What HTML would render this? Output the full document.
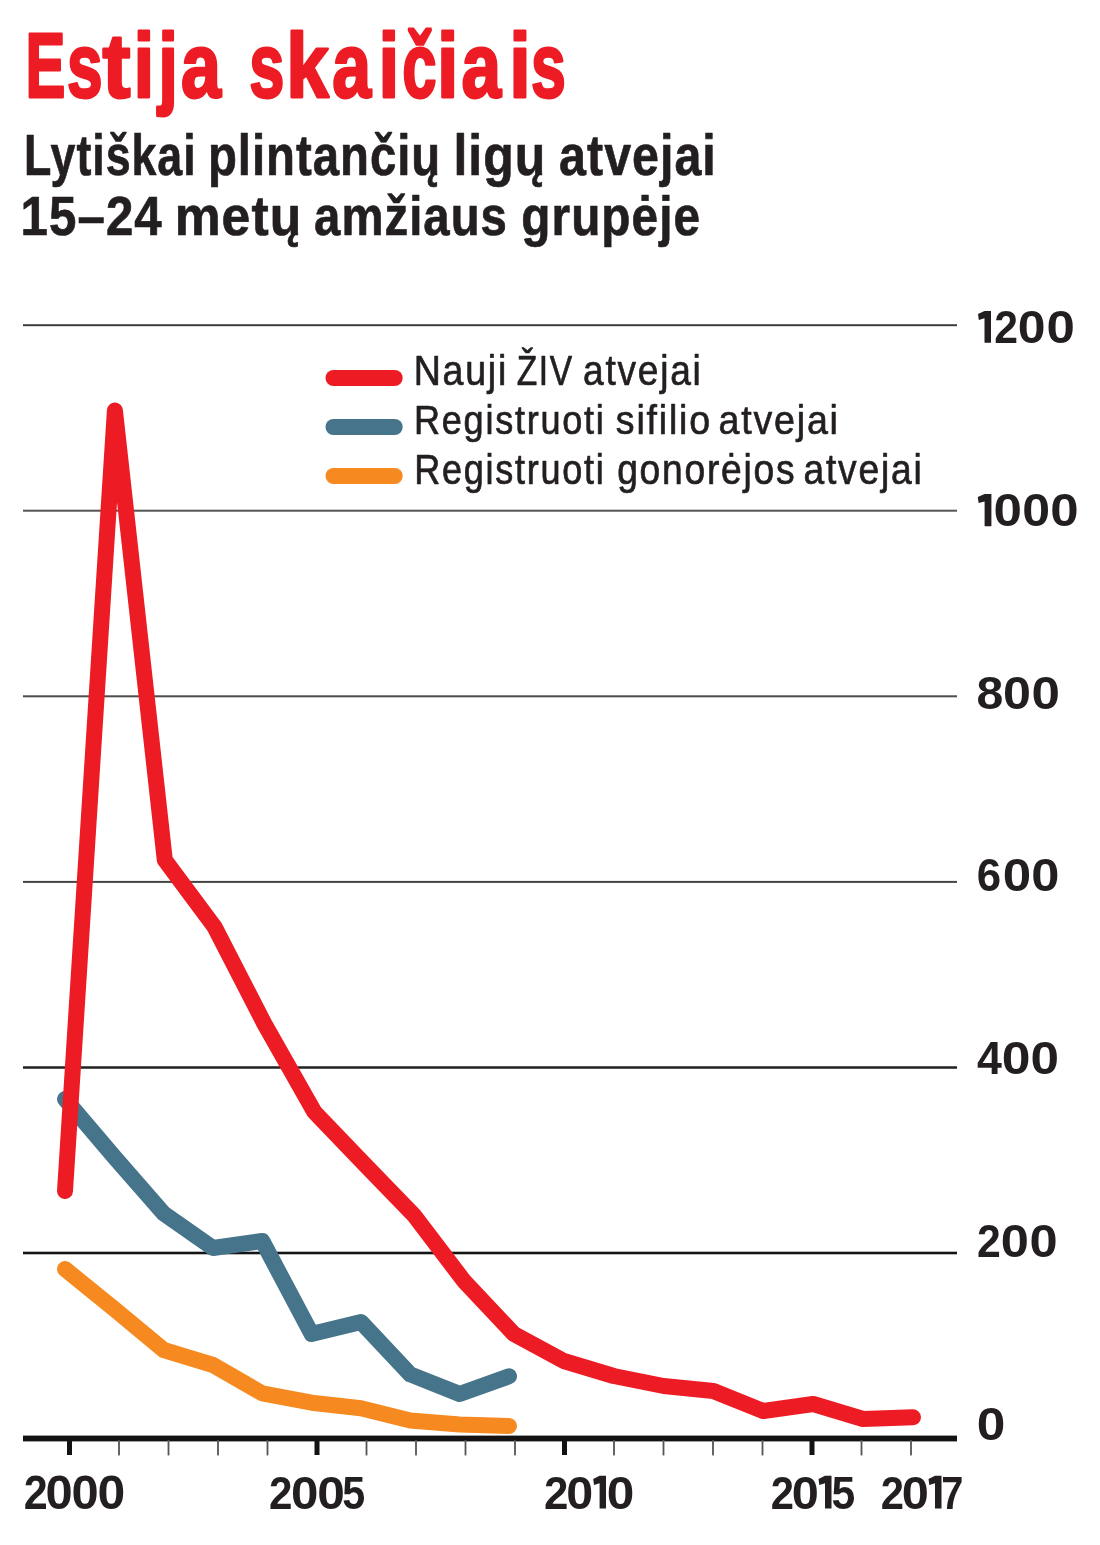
<!DOCTYPE html>
<html><head><meta charset="utf-8"><style>
html,body{margin:0;padding:0;background:#fff;}
svg{display:block;will-change:transform;font-family:"Liberation Sans", sans-serif;}
</style></head><body>
<svg width="1100" height="1545" viewBox="0 0 1100 1545">
<rect width="1100" height="1545" fill="#fff"/>
<rect x="23" y="324.20" width="934" height="2.0" fill="#3d3d3d"/>
<rect x="23" y="509.70" width="934" height="2.0" fill="#555555"/>
<rect x="23" y="695.30" width="934" height="2.0" fill="#4d4d4d"/>
<rect x="23" y="880.90" width="934" height="2.0" fill="#454545"/>
<rect x="23" y="1066.25" width="934" height="2.5" fill="#222222"/>
<rect x="23" y="1251.70" width="934" height="2.6" fill="#141414"/>
<rect x="23" y="1435.6" width="934" height="5.8" fill="#141213"/>
<rect x="67.0" y="1440" width="5" height="15" fill="#141213"/>
<rect x="118.1" y="1440" width="1.8" height="15.4" fill="#555555"/>
<rect x="167.6" y="1440" width="1.8" height="15.4" fill="#555555"/>
<rect x="217.1" y="1440" width="1.8" height="15.4" fill="#555555"/>
<rect x="266.6" y="1440" width="1.8" height="15.4" fill="#555555"/>
<rect x="314.5" y="1440" width="5" height="15" fill="#141213"/>
<rect x="365.6" y="1440" width="1.8" height="15.4" fill="#555555"/>
<rect x="415.1" y="1440" width="1.8" height="15.4" fill="#555555"/>
<rect x="464.6" y="1440" width="1.8" height="15.4" fill="#555555"/>
<rect x="514.1" y="1440" width="1.8" height="15.4" fill="#555555"/>
<rect x="562.0" y="1440" width="5" height="15" fill="#141213"/>
<rect x="613.1" y="1440" width="1.8" height="15.4" fill="#555555"/>
<rect x="662.6" y="1440" width="1.8" height="15.4" fill="#555555"/>
<rect x="712.1" y="1440" width="1.8" height="15.4" fill="#555555"/>
<rect x="761.6" y="1440" width="1.8" height="15.4" fill="#555555"/>
<rect x="809.5" y="1440" width="5" height="15" fill="#141213"/>
<rect x="860.6" y="1440" width="1.8" height="15.4" fill="#555555"/>
<rect x="910.1" y="1440" width="1.8" height="15.4" fill="#555555"/>
<polyline points="65.0,1269.0 114.3,1309.0 163.7,1350.0 213.0,1365.0 262.3,1393.4 311.6,1402.7 361.0,1408.2 410.3,1420.5 459.6,1424.5 509.0,1426.0" fill="none" stroke="#F6891F" stroke-width="16" stroke-linejoin="round" stroke-linecap="round"/>
<polyline points="65.0,1099.0 114.3,1157.0 163.7,1213.5 213.0,1248.0 262.3,1241.0 311.6,1334.0 361.0,1322.0 410.3,1374.4 459.6,1394.0 509.0,1376.3" fill="none" stroke="#45748B" stroke-width="16" stroke-linejoin="round" stroke-linecap="round"/>
<polyline points="65.0,1191.0 114.9,410.5 164.8,860.0 214.6,927.0 264.5,1024.0 314.4,1112.0 364.3,1164.0 414.2,1215.5 464.0,1281.0 513.9,1334.0 563.8,1361.0 613.7,1376.0 663.6,1386.0 713.4,1391.0 763.3,1411.0 813.2,1404.0 863.1,1419.0 913.0,1417.3" fill="none" stroke="#ED1C24" stroke-width="16" stroke-linejoin="round" stroke-linecap="round"/>
<line x1="333.5" y1="378" x2="394.7" y2="378" stroke="#ED1C24" stroke-width="16" stroke-linecap="round"/>
<line x1="333.5" y1="427" x2="394.7" y2="427" stroke="#45748B" stroke-width="16" stroke-linecap="round"/>
<line x1="333.5" y1="476" x2="394.7" y2="476" stroke="#F6891F" stroke-width="16" stroke-linecap="round"/>
<text x="25.58" y="97.47" font-size="91.64" font-weight="bold" fill="#ED1C24" stroke="#ED1C24" stroke-width="2.80" stroke-linejoin="round" textLength="39.87" lengthAdjust="spacingAndGlyphs">E</text>
<text x="67.07" y="97.47" font-size="91.64" font-weight="bold" fill="#ED1C24" stroke="#ED1C24" stroke-width="2.80" stroke-linejoin="round" textLength="35.58" lengthAdjust="spacingAndGlyphs">s</text>
<text x="102.39" y="97.47" font-size="91.64" font-weight="bold" fill="#ED1C24" stroke="#ED1C24" stroke-width="2.80" stroke-linejoin="round" textLength="27.97" lengthAdjust="spacingAndGlyphs">t</text>
<text x="133.58" y="97.47" font-size="91.64" font-weight="bold" fill="#ED1C24" stroke="#ED1C24" stroke-width="2.80" stroke-linejoin="round" textLength="20.79" lengthAdjust="spacingAndGlyphs">i</text>
<text x="158.19" y="97.47" font-size="91.64" font-weight="bold" fill="#ED1C24" stroke="#ED1C24" stroke-width="2.80" stroke-linejoin="round" textLength="19.73" lengthAdjust="spacingAndGlyphs">j</text>
<text x="181.07" y="97.47" font-size="91.64" font-weight="bold" fill="#ED1C24" stroke="#ED1C24" stroke-width="2.80" stroke-linejoin="round" textLength="39.98" lengthAdjust="spacingAndGlyphs">a</text>
<text x="249.16" y="97.47" font-size="91.64" font-weight="bold" fill="#ED1C24" stroke="#ED1C24" stroke-width="2.80" stroke-linejoin="round" textLength="35.14" lengthAdjust="spacingAndGlyphs">s</text>
<text x="286.31" y="97.47" font-size="91.64" font-weight="bold" fill="#ED1C24" stroke="#ED1C24" stroke-width="2.80" stroke-linejoin="round" textLength="42.59" lengthAdjust="spacingAndGlyphs">k</text>
<text x="332.34" y="97.47" font-size="91.64" font-weight="bold" fill="#ED1C24" stroke="#ED1C24" stroke-width="2.80" stroke-linejoin="round" textLength="38.84" lengthAdjust="spacingAndGlyphs">a</text>
<text x="378.41" y="97.47" font-size="91.64" font-weight="bold" fill="#ED1C24" stroke="#ED1C24" stroke-width="2.80" stroke-linejoin="round" textLength="20.74" lengthAdjust="spacingAndGlyphs">i</text>
<text x="402.21" y="97.47" font-size="91.64" font-weight="bold" fill="#ED1C24" stroke="#ED1C24" stroke-width="2.80" stroke-linejoin="round" textLength="34.33" lengthAdjust="spacingAndGlyphs">č</text>
<text x="437.05" y="97.47" font-size="91.64" font-weight="bold" fill="#ED1C24" stroke="#ED1C24" stroke-width="2.80" stroke-linejoin="round" textLength="21.43" lengthAdjust="spacingAndGlyphs">i</text>
<text x="461.50" y="97.47" font-size="91.64" font-weight="bold" fill="#ED1C24" stroke="#ED1C24" stroke-width="2.80" stroke-linejoin="round" textLength="39.57" lengthAdjust="spacingAndGlyphs">a</text>
<text x="509.21" y="97.47" font-size="91.64" font-weight="bold" fill="#ED1C24" stroke="#ED1C24" stroke-width="2.80" stroke-linejoin="round" textLength="21.48" lengthAdjust="spacingAndGlyphs">i</text>
<text x="530.97" y="97.47" font-size="91.64" font-weight="bold" fill="#ED1C24" stroke="#ED1C24" stroke-width="2.80" stroke-linejoin="round" textLength="34.84" lengthAdjust="spacingAndGlyphs">s</text>
<text x="23.97" y="175.07" font-size="57.69" font-weight="bold" fill="#231F20" stroke="#231F20" stroke-width="0.70" stroke-linejoin="round" letter-spacing="1.20" textLength="172.55" lengthAdjust="spacingAndGlyphs">Lytiškai</text>
<text x="207.98" y="175.07" font-size="57.69" font-weight="bold" fill="#231F20" stroke="#231F20" stroke-width="0.70" stroke-linejoin="round" letter-spacing="1.20" textLength="233.24" lengthAdjust="spacingAndGlyphs">plintančių</text>
<text x="453.47" y="175.07" font-size="57.69" font-weight="bold" fill="#231F20" stroke="#231F20" stroke-width="0.70" stroke-linejoin="round" letter-spacing="1.20" textLength="92.84" lengthAdjust="spacingAndGlyphs">ligų</text>
<text x="559.09" y="175.07" font-size="57.69" font-weight="bold" fill="#231F20" stroke="#231F20" stroke-width="0.70" stroke-linejoin="round" letter-spacing="1.20" textLength="157.74" lengthAdjust="spacingAndGlyphs">atvejai</text>
<text x="20.62" y="235.22" font-size="55.89" font-weight="bold" fill="#231F20" stroke="#231F20" stroke-width="0.70" stroke-linejoin="round" letter-spacing="1.20" textLength="142.21" lengthAdjust="spacingAndGlyphs">15–24</text>
<text x="174.63" y="235.22" font-size="55.89" font-weight="bold" fill="#231F20" stroke="#231F20" stroke-width="0.70" stroke-linejoin="round" letter-spacing="1.20" textLength="127.70" lengthAdjust="spacingAndGlyphs">metų</text>
<text x="314.07" y="235.22" font-size="55.89" font-weight="bold" fill="#231F20" stroke="#231F20" stroke-width="0.70" stroke-linejoin="round" letter-spacing="1.20" textLength="193.89" lengthAdjust="spacingAndGlyphs">amžiaus</text>
<text x="521.37" y="235.22" font-size="55.89" font-weight="bold" fill="#231F20" stroke="#231F20" stroke-width="0.70" stroke-linejoin="round" letter-spacing="1.20" textLength="179.67" lengthAdjust="spacingAndGlyphs">grupėje</text>
<text x="413.64" y="384.82" font-size="42.76" font-weight="normal" fill="#231F20" stroke="#231F20" stroke-width="0.70" stroke-linejoin="round" letter-spacing="2.00" textLength="94.37" lengthAdjust="spacingAndGlyphs">Nauji</text>
<text x="516.79" y="384.82" font-size="42.76" font-weight="normal" fill="#231F20" stroke="#231F20" stroke-width="0.70" stroke-linejoin="round" letter-spacing="2.00" textLength="56.96" lengthAdjust="spacingAndGlyphs">ŽIV</text>
<text x="583.09" y="384.82" font-size="42.76" font-weight="normal" fill="#231F20" stroke="#231F20" stroke-width="0.70" stroke-linejoin="round" letter-spacing="2.00" textLength="119.49" lengthAdjust="spacingAndGlyphs">atvejai</text>
<text x="413.99" y="434.47" font-size="41.53" font-weight="normal" fill="#231F20" stroke="#231F20" stroke-width="0.70" stroke-linejoin="round" letter-spacing="2.00" textLength="191.64" lengthAdjust="spacingAndGlyphs">Registruoti</text>
<text x="615.82" y="434.47" font-size="41.53" font-weight="normal" fill="#231F20" stroke="#231F20" stroke-width="0.70" stroke-linejoin="round" letter-spacing="2.00" textLength="96.04" lengthAdjust="spacingAndGlyphs">sifilio</text>
<text x="718.51" y="434.47" font-size="41.53" font-weight="normal" fill="#231F20" stroke="#231F20" stroke-width="0.70" stroke-linejoin="round" letter-spacing="2.00" textLength="121.29" lengthAdjust="spacingAndGlyphs">atvejai</text>
<text x="414.21" y="483.65" font-size="41.65" font-weight="normal" fill="#231F20" stroke="#231F20" stroke-width="0.70" stroke-linejoin="round" letter-spacing="2.00" textLength="191.28" lengthAdjust="spacingAndGlyphs">Registruoti</text>
<text x="617.13" y="483.65" font-size="41.65" font-weight="normal" fill="#231F20" stroke="#231F20" stroke-width="0.70" stroke-linejoin="round" letter-spacing="2.00" textLength="179.26" lengthAdjust="spacingAndGlyphs">gonorėjos</text>
<text x="803.51" y="483.65" font-size="41.65" font-weight="normal" fill="#231F20" stroke="#231F20" stroke-width="0.70" stroke-linejoin="round" letter-spacing="2.00" textLength="120.13" lengthAdjust="spacingAndGlyphs">atvejai</text>
<path d="M984.50,311.00H991.00V342.70H984.50V318.29L978.80,319.88L978.00,314.01Z" fill="#231F20"/>
<text x="994.34" y="342.72" font-size="46.05" font-weight="bold" fill="#231F20" textLength="23.77" lengthAdjust="spacingAndGlyphs">2</text>
<text x="1017.87" y="342.72" font-size="46.05" font-weight="bold" fill="#231F20" textLength="27.76" lengthAdjust="spacingAndGlyphs">0</text>
<text x="1046.41" y="342.72" font-size="46.05" font-weight="bold" fill="#231F20" textLength="28.36" lengthAdjust="spacingAndGlyphs">0</text>
<path d="M984.60,494.00H991.40V526.30H984.60V501.43L978.60,503.04L977.80,497.07Z" fill="#231F20"/>
<text x="993.56" y="526.13" font-size="47.10" font-weight="bold" fill="#231F20" textLength="28.42" lengthAdjust="spacingAndGlyphs">0</text>
<text x="1022.22" y="526.13" font-size="47.10" font-weight="bold" fill="#231F20" textLength="27.81" lengthAdjust="spacingAndGlyphs">0</text>
<text x="1050.36" y="526.13" font-size="47.10" font-weight="bold" fill="#231F20" textLength="28.37" lengthAdjust="spacingAndGlyphs">0</text>
<text x="976.59" y="709.14" font-size="45.87" font-weight="bold" fill="#231F20" textLength="26.78" lengthAdjust="spacingAndGlyphs">8</text>
<text x="1002.92" y="709.14" font-size="45.87" font-weight="bold" fill="#231F20" textLength="27.95" lengthAdjust="spacingAndGlyphs">0</text>
<text x="1031.53" y="709.14" font-size="45.87" font-weight="bold" fill="#231F20" textLength="28.42" lengthAdjust="spacingAndGlyphs">0</text>
<text x="976.78" y="891.15" font-size="46.57" font-weight="bold" fill="#231F20" textLength="24.37" lengthAdjust="spacingAndGlyphs">6</text>
<text x="1002.84" y="891.15" font-size="46.57" font-weight="bold" fill="#231F20" textLength="28.44" lengthAdjust="spacingAndGlyphs">0</text>
<text x="1031.33" y="891.15" font-size="46.57" font-weight="bold" fill="#231F20" textLength="28.15" lengthAdjust="spacingAndGlyphs">0</text>
<text x="976.88" y="1074.36" font-size="46.57" font-weight="bold" fill="#231F20" textLength="24.90" lengthAdjust="spacingAndGlyphs">4</text>
<text x="1001.87" y="1074.36" font-size="46.57" font-weight="bold" fill="#231F20" textLength="28.77" lengthAdjust="spacingAndGlyphs">0</text>
<text x="1030.52" y="1074.36" font-size="46.57" font-weight="bold" fill="#231F20" textLength="28.51" lengthAdjust="spacingAndGlyphs">0</text>
<text x="977.08" y="1257.21" font-size="46.70" font-weight="bold" fill="#231F20" textLength="23.80" lengthAdjust="spacingAndGlyphs">2</text>
<text x="1000.65" y="1257.21" font-size="46.70" font-weight="bold" fill="#231F20" textLength="28.14" lengthAdjust="spacingAndGlyphs">0</text>
<text x="1029.63" y="1257.21" font-size="46.70" font-weight="bold" fill="#231F20" textLength="28.14" lengthAdjust="spacingAndGlyphs">0</text>
<text x="976.68" y="1439.65" font-size="46.37" font-weight="bold" fill="#231F20" textLength="28.61" lengthAdjust="spacingAndGlyphs">0</text>
<text x="23.86" y="1508.71" font-size="47.39" font-weight="bold" fill="#231F20" textLength="23.98" lengthAdjust="spacingAndGlyphs">2</text>
<text x="45.45" y="1508.71" font-size="47.39" font-weight="bold" fill="#231F20" textLength="27.18" lengthAdjust="spacingAndGlyphs">0</text>
<text x="71.45" y="1508.71" font-size="47.39" font-weight="bold" fill="#231F20" textLength="27.18" lengthAdjust="spacingAndGlyphs">0</text>
<text x="97.51" y="1508.71" font-size="47.39" font-weight="bold" fill="#231F20" textLength="27.76" lengthAdjust="spacingAndGlyphs">0</text>
<text x="269.08" y="1508.71" font-size="46.73" font-weight="bold" fill="#231F20" textLength="23.44" lengthAdjust="spacingAndGlyphs">2</text>
<text x="291.13" y="1508.71" font-size="46.73" font-weight="bold" fill="#231F20" textLength="27.42" lengthAdjust="spacingAndGlyphs">0</text>
<text x="317.33" y="1508.71" font-size="46.73" font-weight="bold" fill="#231F20" textLength="27.60" lengthAdjust="spacingAndGlyphs">0</text>
<text x="342.14" y="1508.71" font-size="46.73" font-weight="bold" fill="#231F20" textLength="22.93" lengthAdjust="spacingAndGlyphs">5</text>
<text x="543.96" y="1508.71" font-size="46.98" font-weight="bold" fill="#231F20" textLength="24.41" lengthAdjust="spacingAndGlyphs">2</text>
<text x="566.18" y="1508.71" font-size="46.98" font-weight="bold" fill="#231F20" textLength="26.93" lengthAdjust="spacingAndGlyphs">0</text>
<path d="M599.60,1475.80H606.00V1508.40H599.60V1483.30L594.00,1484.93L593.20,1478.90Z" fill="#231F20"/>
<text x="606.87" y="1508.71" font-size="46.98" font-weight="bold" fill="#231F20" textLength="27.56" lengthAdjust="spacingAndGlyphs">0</text>
<text x="770.87" y="1508.71" font-size="46.81" font-weight="bold" fill="#231F20" textLength="23.24" lengthAdjust="spacingAndGlyphs">2</text>
<text x="791.85" y="1508.71" font-size="46.81" font-weight="bold" fill="#231F20" textLength="27.10" lengthAdjust="spacingAndGlyphs">0</text>
<path d="M825.00,1475.80H831.50V1508.40H825.00V1483.30L819.30,1484.93L818.50,1478.90Z" fill="#231F20"/>
<text x="831.50" y="1508.71" font-size="46.81" font-weight="bold" fill="#231F20" textLength="23.71" lengthAdjust="spacingAndGlyphs">5</text>
<text x="880.85" y="1508.71" font-size="46.83" font-weight="bold" fill="#231F20" textLength="23.26" lengthAdjust="spacingAndGlyphs">2</text>
<text x="901.85" y="1508.71" font-size="46.83" font-weight="bold" fill="#231F20" textLength="27.11" lengthAdjust="spacingAndGlyphs">0</text>
<path d="M935.00,1475.80H941.50V1508.40H935.00V1483.30L929.30,1484.93L928.50,1478.90Z" fill="#231F20"/>
<text x="941.36" y="1508.71" font-size="46.83" font-weight="bold" fill="#231F20" textLength="22.14" lengthAdjust="spacingAndGlyphs">7</text>
</svg>
</body></html>
